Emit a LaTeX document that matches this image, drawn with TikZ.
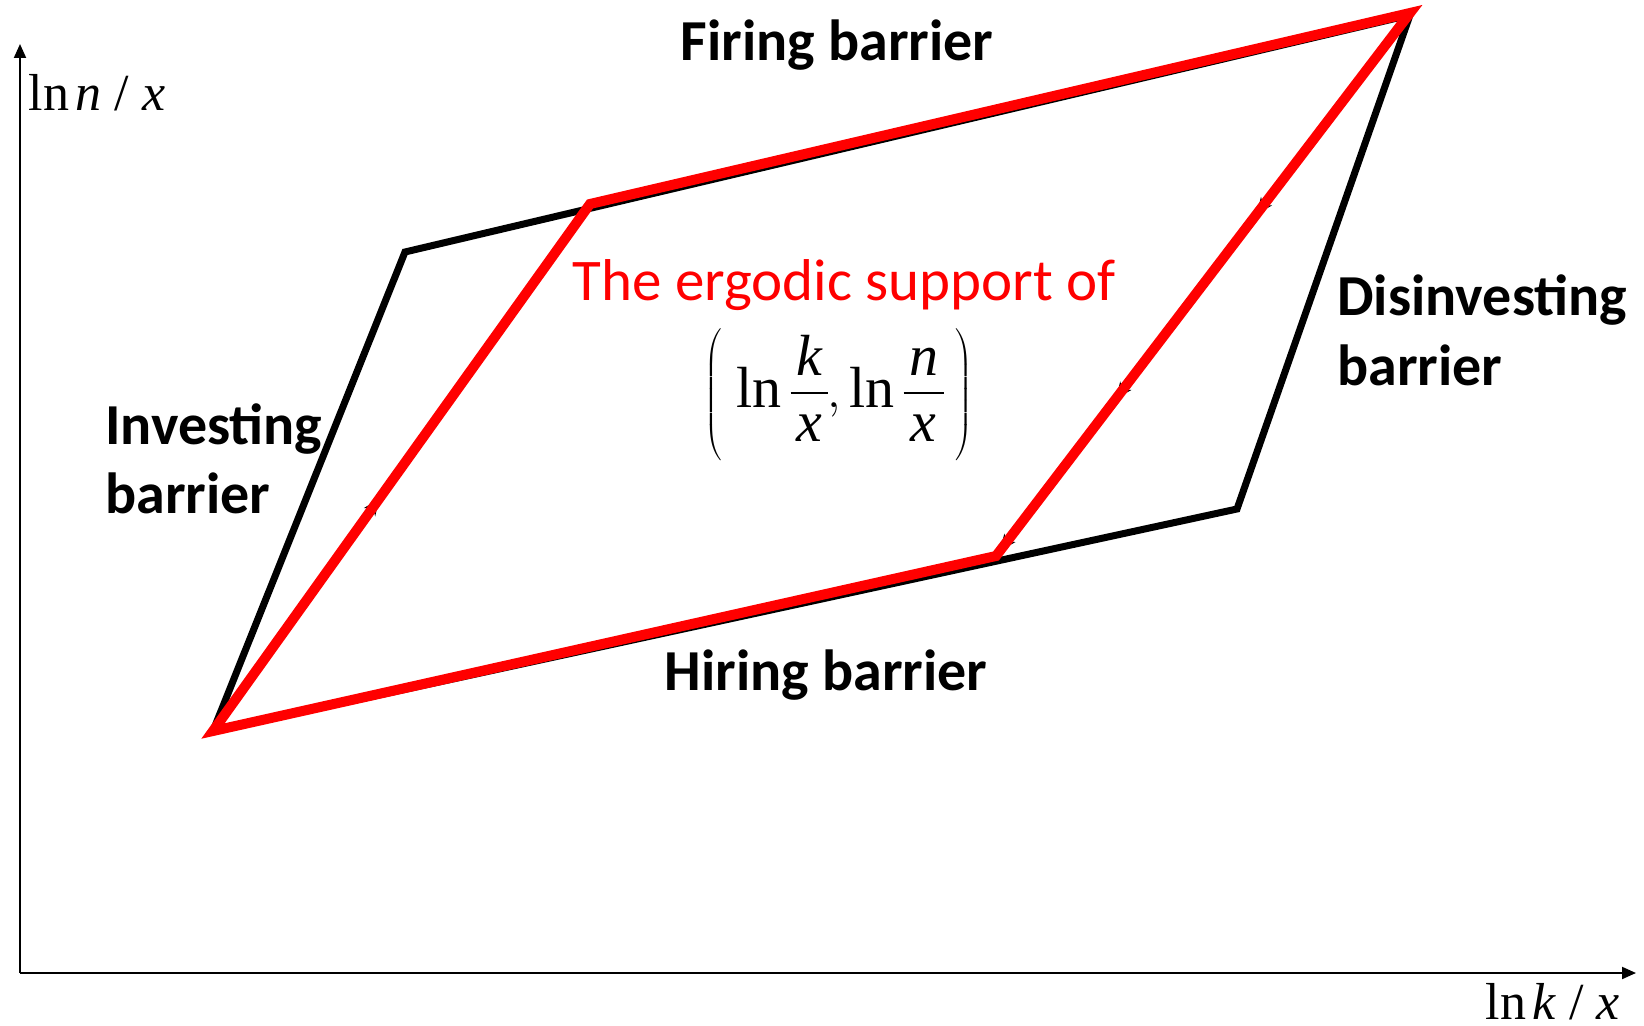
\documentclass[tikz,border=0pt]{standalone}
\usepackage{fontspec}
\setmainfont{Carlito}
\newfontfamily\tnr{Liberation Serif}
\usetikzlibrary{arrows.meta,decorations.markings}
\definecolor{suppred}{RGB}{255,0,0}
\setlength{\arrayrulewidth}{1pt}
\newcommand{\lnfrac}[2]{\mbox{\tnr ln}\hspace{0.15em}%
  \begin{tabular}{@{\hspace{0.1em}}c@{\hspace{0.1em}}}\tnr\itshape #1\\[-2pt]\hline\tnr\itshape #2\end{tabular}}

\begin{document}
\begin{tikzpicture}[x=0.5pt, y=-0.5pt,
    axis/.style={-{Triangle[length=7pt,width=6pt]}, line width=1pt},
    barrier/.style={line width=3.5pt, black, line join=miter},
    support/.style={line width=5pt, suppred, line join=miter},
    flow/.style={line width=0.6pt, black, postaction={decorate}},
    lbl/.style={font=\fontsize{29}{35}\selectfont\bfseries, align=left, inner sep=0pt},
    axlbl/.style={font=\fontsize{26}{30}\selectfont\tnr, inner sep=0pt},
]
    \useasboundingbox (0,0) rectangle (1644,1026);

    % axes
    \coordinate (orig) at (20,973);
    \coordinate (ytop) at (20,44);
    \coordinate (xend) at (1636,973);
    \draw[axis] (orig) -- (ytop);
    \draw[axis] (orig) -- (xend);
    \node[axlbl, anchor=base] (ylab) at (97,111)
        {ln\hspace{0.12em}\textit{n}\hspace{0.25em}/\hspace{0.25em}\textit{x}};
    \node[axlbl, anchor=base] (xlab) at (1553,1019)
        {ln\hspace{0.12em}\textit{k}\hspace{0.25em}/\hspace{0.25em}\textit{x}};

    % barrier corners
    \coordinate (bl) at (213,731);
    \coordinate (ul) at (405,252);
    \coordinate (tr) at (1410,15);
    \coordinate (lr) at (1237,509);
    % ergodic support corners
    \coordinate (sbl) at (213,731);
    \coordinate (sul) at (590,204);
    \coordinate (str) at (1410,13);
    \coordinate (slr) at (996,556);

    \draw[barrier] (bl) -- (ul) -- (tr) -- (lr) -- cycle;

    % flow arrows (mostly hidden)
    \draw[flow, decoration={markings,
        mark=at position 0.44 with {\arrow{Stealth[length=8pt,width=7pt]}}}] (sbl) -- (sul);
    \draw[flow, decoration={markings,
        mark=at position 0.37 with {\arrow{Stealth[length=8pt,width=7pt]}},
        mark=at position 0.71 with {\arrow{Stealth[length=8pt,width=7pt]}},
        mark=at position 0.99 with {\arrow{Stealth[length=8pt,width=7pt]}}}] (str) -- (slr);

    \draw[support] (sbl) -- (sul) -- (str) -- (slr) -- cycle;

    % labels
    \node[lbl, anchor=base] (fire) at (837,61) {Firing barrier};
    \node[lbl, anchor=base] (hire) at (826,690) {Hiring barrier};
    \node[lbl, anchor=base west] (inv) at (105,514) {Investing\\barrier};
    \node[lbl, anchor=base west] (disinv) at (1337,386) {Disinvesting\\barrier};
    \node[font=\fontsize{29.5}{35}\selectfont, text=suppred, anchor=base, inner sep=0pt] (ergo) at (844,301) {The ergodic support of};
    \node[font=\fontsize{29}{34}\selectfont, inner sep=0pt] (pair) at (839,395)
        {$\left(\hspace{0.25em}\lnfrac{k}{x},\lnfrac{n}{x}\hspace{0.2em}\right)$};
\end{tikzpicture}
\end{document}
